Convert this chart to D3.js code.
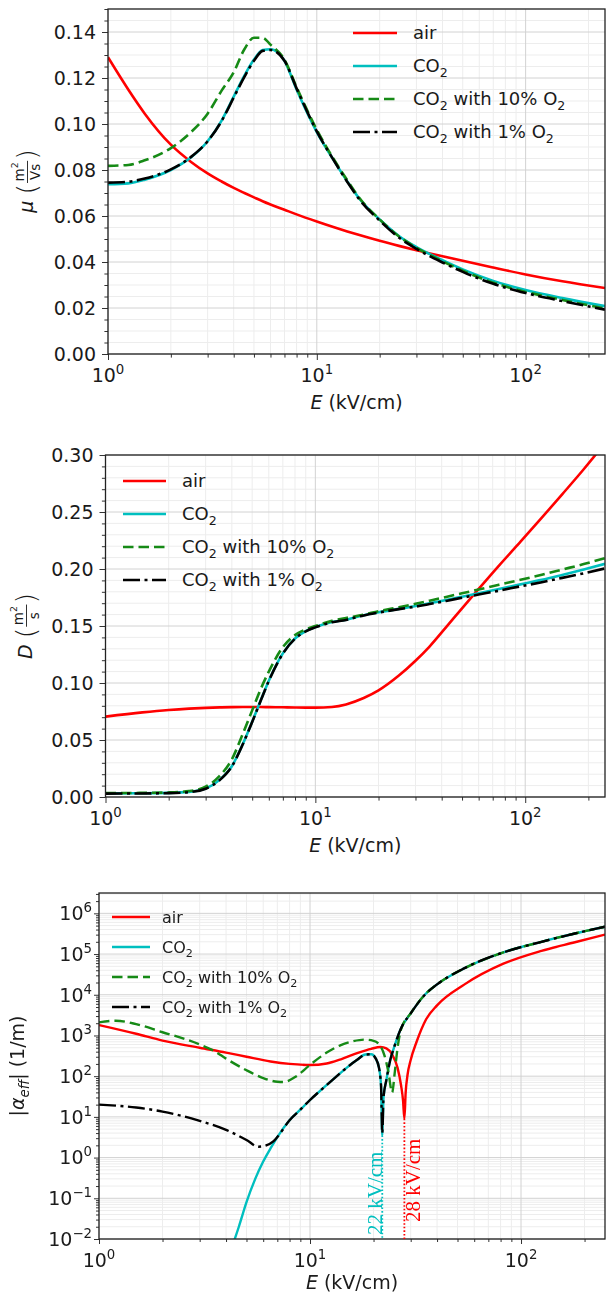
<!DOCTYPE html>
<html>
<head>
<meta charset="utf-8">
<script src="https://cdn.jsdelivr.net/npm/d3@7"></script>
<style>
  body { margin: 0; background: #fff; }
  svg { display: block; }
  text { font-family: "DejaVu Sans", sans-serif; fill: #1a1a1a; white-space: pre; }
</style>
</head>
<body>
<svg id="fig" width="606" height="1296"></svg>
<script>
// ---------- drift mobility mu (m^2/Vs) vs reduced field E (kV/cm) ----------
const muE        = [1, 1.25, 1.5, 2, 2.5, 3, 3.5, 4, 4.5, 5, 5.5, 6, 7, 8, 10, 12, 14, 16, 20, 25, 30, 40, 50, 70, 100, 150, 240];
const muAir      = [0.1290, 0.1150, 0.1045, 0.0910, 0.0835, 0.0785, 0.0750, 0.0722, 0.0700, 0.0681, 0.0664, 0.0650, 0.0627, 0.0607, 0.0576, 0.0552, 0.0533, 0.0517, 0.0492, 0.0469, 0.0451, 0.0425, 0.0405, 0.0376, 0.0346, 0.0316, 0.0287];
const muCO2      = [0.0738, 0.0742, 0.0758, 0.0800, 0.0855, 0.0925, 0.1015, 0.1119, 0.1210, 0.1280, 0.1322, 0.1325, 0.1275, 0.1150, 0.0965, 0.0845, 0.0750, 0.0675, 0.0585, 0.0510, 0.0465, 0.0408, 0.0368, 0.0318, 0.0278, 0.0243, 0.0208];
const muCO2O2_10 = [0.0818, 0.0822, 0.0842, 0.0895, 0.0965, 0.1045, 0.1145, 0.1225, 0.1325, 0.1375, 0.1375, 0.1345, 0.1280, 0.1160, 0.0975, 0.0850, 0.0755, 0.0678, 0.0585, 0.0508, 0.0462, 0.0403, 0.0362, 0.0310, 0.0270, 0.0235, 0.0198];
const muCO2O2_1  = [0.0745, 0.0749, 0.0763, 0.0803, 0.0857, 0.0925, 0.1013, 0.1115, 0.1205, 0.1275, 0.1318, 0.1322, 0.1275, 0.1155, 0.0968, 0.0845, 0.0748, 0.0672, 0.0580, 0.0503, 0.0457, 0.0398, 0.0357, 0.0305, 0.0265, 0.0230, 0.0193];

// ---------- diffusion coefficient D (m^2/s) ----------
const dE         = [1, 1.5, 2, 2.5, 3, 3.5, 4, 4.5, 5, 5.5, 6, 7, 8, 9, 10, 12, 14, 17, 20, 25, 30, 35, 42, 50, 60, 75, 95, 120, 150, 190, 240];
const dAir       = [0.0705, 0.0742, 0.0763, 0.0775, 0.0782, 0.0786, 0.0788, 0.0789, 0.0789, 0.0789, 0.0788, 0.0787, 0.0785, 0.0784, 0.0784, 0.0790, 0.0812, 0.0868, 0.0935, 0.1065, 0.1195, 0.1320, 0.1490, 0.1655, 0.1825, 0.2030, 0.2240, 0.2450, 0.2655, 0.2875, 0.3105];
const dCO2       = [0.0032, 0.0033, 0.0036, 0.0045, 0.0075, 0.0150, 0.0270, 0.0460, 0.0660, 0.0850, 0.1020, 0.1260, 0.1390, 0.1455, 0.1490, 0.1535, 0.1555, 0.1595, 0.1620, 0.1650, 0.1675, 0.1700, 0.1728, 0.1757, 0.1788, 0.1825, 0.1865, 0.1905, 0.1948, 0.1995, 0.2045];
const dCO2O2_10  = [0.0035, 0.0036, 0.0040, 0.0052, 0.0090, 0.0185, 0.0330, 0.0550, 0.0760, 0.0950, 0.1100, 0.1315, 0.1420, 0.1470, 0.1500, 0.1545, 0.1570, 0.1600, 0.1630, 0.1665, 0.1695, 0.1722, 0.1755, 0.1787, 0.1820, 0.1862, 0.1905, 0.1950, 0.1995, 0.2043, 0.2095];
const dCO2O2_1   = [0.0030, 0.0031, 0.0034, 0.0043, 0.0073, 0.0148, 0.0268, 0.0458, 0.0658, 0.0848, 0.1018, 0.1258, 0.1388, 0.1453, 0.1488, 0.1533, 0.1553, 0.1593, 0.1618, 0.1648, 0.1670, 0.1693, 0.1720, 0.1748, 0.1776, 0.1810, 0.1848, 0.1884, 0.1922, 0.1962, 0.2005];

// ---------- |effective ionization coefficient| (1/m) ----------
const aAirE      = [1, 1.5, 2, 3, 4, 5, 6.5, 8, 10, 12, 14, 17, 19.5, 21.6, 23, 24.5, 26, 27, 27.6, 28, 28.4, 29, 30, 32, 35.5, 40, 54, 82.5, 125, 180, 250];
const aAir       = [1800, 1100, 750, 500, 380, 300, 230, 200, 188, 205, 260, 380, 470, 520, 480, 340, 160, 60, 25, 9, 40, 110, 250, 700, 2500, 5500, 18000, 58000, 120000, 195000, 300000];
const aCO2E      = [4.2, 4.6, 5, 5.5, 6, 6.55, 7, 8, 9, 10, 11.5, 13.4, 15, 16.6, 18.3, 19.5, 20.5, 21.2, 21.7, 22, 22.3, 23, 24, 25, 27, 30, 35, 40, 54, 82.5, 125, 180, 250];
const aCO2       = [0.005, 0.02, 0.08, 0.3, 0.8, 1.8, 3.2, 8.3, 15, 26, 50, 100, 165, 245, 340, 345, 270, 165, 60, 3.5, 30, 80, 250, 500, 1500, 3500, 10000, 18000, 45000, 110000, 200000, 320000, 470000];
const aO2_10E    = [1, 1.2, 1.5, 2, 2.5, 3, 3.5, 4, 5, 6, 7, 7.5, 8.5, 10, 12, 14, 16, 18, 20, 21.5, 22.5, 23.5, 24.5, 25.2, 26, 27, 30, 35, 40, 54, 82.5, 125, 180, 250];
const aO2_10     = [2100, 2300, 1900, 1200, 850, 600, 420, 270, 140, 90, 73, 72, 95, 190, 380, 580, 720, 790, 740, 560, 330, 130, 40, 120, 500, 1400, 3500, 10000, 18000, 45000, 110000, 200000, 320000, 470000];
const aO2_1E     = [1, 1.5, 2, 3, 4, 5, 5.7, 6.2, 6.7, 7, 8, 9, 10, 11.5, 13.4, 15, 16.6, 18.3, 19.5, 20.5, 21.2, 21.7, 22, 22.3, 23, 24, 25, 27, 30, 35, 40, 54, 82.5, 125, 180, 250];
const aO2_1      = [20, 17, 13.5, 8, 4.8, 2.7, 1.85, 2.0, 2.5, 3.2, 8.3, 15, 26, 50, 100, 165, 245, 340, 345, 270, 165, 60, 4, 30, 80, 250, 500, 1500, 3500, 10000, 18000, 45000, 110000, 200000, 320000, 470000];

// critical fields marked in the ionization panel
const criticalE      = [22, 28];
const criticalLabels = ["22 kV/cm", "28 kV/cm"];

// tick values
const xTickExps     = [0, 1, 2];
const muTicks       = [0, 0.02, 0.04, 0.06, 0.08, 0.10, 0.12, 0.14];
const dTicks        = [0, 0.05, 0.10, 0.15, 0.20, 0.25, 0.30];
const alphaTickExps = [-2, -1, 0, 1, 2, 3, 4, 5, 6];

// legend entries (rich text parts)
const legendParts = [
  [{t: "air"}],
  [{t: "CO"}, {t: "2", sub: true}],
  [{t: "CO"}, {t: "2", sub: true}, {t: " with 10% O"}, {t: "2", sub: true}],
  [{t: "CO"}, {t: "2", sub: true}, {t: " with 1% O"}, {t: "2", sub: true}]
];

const styles = [
  {color: "#ff0000", dash: null},
  {color: "#00bfbf", dash: null},
  {color: "#168a16", dash: "10.5,5"},
  {color: "#000000", dash: "17,4.5,3,4.5"}
];

const svg = d3.select("#fig");
const defs = svg.append("defs");
defs.append("filter").attr("id", "soft").attr("x", "-5%").attr("y", "-5%").attr("width", "110%").attr("height", "110%")
  .append("feGaussianBlur").attr("stdDeviation", 0.55);

// text made of normal / subscript / superscript runs
function rich(text, parts, fs) {
  let shift = 0;
  parts.forEach(p => {
    const target = p.sub ? fs * 0.24 : p.sup ? -fs * 0.42 : 0;
    const size = (p.sub || p.sup) ? fs * 0.7 : fs;
    text.append("tspan")
      .attr("dy", target - shift)
      .attr("font-size", size)
      .attr("font-style", p.it ? "italic" : null)
      .text(p.t);
    shift = target;
  });
  return text;
}

function panel(cfg) {
  const g = svg.append("g");
  const x = d3.scaleLog().domain(cfg.xDomain).range([cfg.left, cfg.right]);
  const y = (cfg.yLog ? d3.scaleLog() : d3.scaleLinear()).domain(cfg.yDomain).range([cfg.bottom, cfg.top]);

  const xMajor = xTickExps.map(e => Math.pow(10, e));
  const xMinor = [];
  xTickExps.forEach(e => d3.range(2, 10).forEach(m => {
    const v = m * Math.pow(10, e);
    if (v <= cfg.xDomain[1]) xMinor.push(v);
  }));

  let yMajor, yMinor;
  if (cfg.yLog) {
    yMajor = alphaTickExps.map(e => Math.pow(10, e));
    yMinor = [];
    alphaTickExps.forEach(e => d3.range(2, 10).forEach(m => {
      const v = m * Math.pow(10, e);
      if (v <= cfg.yDomain[1]) yMinor.push(v);
    }));
  } else {
    yMajor = cfg.yTicks;
    yMinor = d3.range(0, Math.round(cfg.yDomain[1] / cfg.yMinorStep) + 1)
      .map(i => +(i * cfg.yMinorStep).toFixed(4))
      .filter(v => !yMajor.some(t => Math.abs(t - v) < 1e-9));
  }

  // grid
  const grid = g.append("g");
  grid.selectAll(".gxm").data(xMinor).join("line")
    .attr("x1", d => x(d)).attr("x2", d => x(d)).attr("y1", cfg.top).attr("y2", cfg.bottom)
    .attr("stroke", "#ededed").attr("stroke-width", 1);
  grid.selectAll(".gym").data(yMinor).join("line")
    .attr("x1", cfg.left).attr("x2", cfg.right).attr("y1", d => y(d)).attr("y2", d => y(d))
    .attr("stroke", "#ededed").attr("stroke-width", 1);
  grid.selectAll(".gxM").data(xMajor).join("line")
    .attr("x1", d => x(d)).attr("x2", d => x(d)).attr("y1", cfg.top).attr("y2", cfg.bottom)
    .attr("stroke", "#d2d2d2").attr("stroke-width", 1);
  grid.selectAll(".gyM").data(yMajor).join("line")
    .attr("x1", cfg.left).attr("x2", cfg.right).attr("y1", d => y(d)).attr("y2", d => y(d))
    .attr("stroke", "#d2d2d2").attr("stroke-width", 1);

  // curves
  const clipId = "clip" + cfg.id;
  defs.append("clipPath").attr("id", clipId).append("rect")
    .attr("x", cfg.left).attr("y", cfg.top).attr("width", cfg.right - cfg.left).attr("height", cfg.bottom - cfg.top);
  const lines = g.append("g").attr("clip-path", `url(#${clipId})`);
  const lineGen = d3.line().x(d => x(d[0])).y(d => y(d[1])).curve(d3.curveMonotoneX);
  cfg.series.forEach((s, i) => {
    const pts = s.E.map((e, k) => [e, s.v[k]]);
    lines.append("path").attr("d", lineGen(pts))
      .attr("fill", "none").attr("stroke", styles[i].color)
      .attr("stroke-width", cfg.lw)
      .attr("stroke-dasharray", styles[i].dash)
      .attr("stroke-linejoin", "round");
  });

  // axes: tick marks via d3 axes, labels as rich text
  const xAxis = g.append("g").attr("transform", `translate(0,${cfg.bottom})`);
  xAxis.call(d3.axisBottom(x).tickValues(xMajor).tickSize(cfg.tickLen).tickFormat(""));
  xAxis.append("g").call(d3.axisBottom(x).tickValues(xMinor).tickSize(cfg.tickLen * 0.6).tickFormat(""));
  xAxis.selectAll(".domain").remove();
  xAxis.selectAll("line").attr("stroke", "#333");

  const yAxis = g.append("g").attr("transform", `translate(${cfg.left},0)`);
  yAxis.call(d3.axisLeft(y).tickValues(yMajor).tickSize(cfg.tickLen).tickFormat(""));
  yAxis.append("g").call(d3.axisLeft(y).tickValues(yMinor).tickSize(cfg.tickLen * 0.6).tickFormat(""));
  yAxis.selectAll(".domain").remove();
  yAxis.selectAll("line").attr("stroke", "#333");

  // frame
  g.append("rect").attr("x", cfg.left).attr("y", cfg.top)
    .attr("width", cfg.right - cfg.left).attr("height", cfg.bottom - cfg.top)
    .attr("fill", "none").attr("stroke", "#222").attr("stroke-width", 1.3);

  // x tick labels
  xTickExps.forEach(e => {
    rich(g.append("text").attr("x", x(Math.pow(10, e))).attr("y", cfg.bottom + 28)
      .attr("text-anchor", "middle").attr("font-size", cfg.fs),
      [{t: "10"}, {t: String(e), sup: true}], cfg.fs);
  });
  // y tick labels
  if (cfg.yLog) {
    alphaTickExps.forEach(e => {
      rich(g.append("text").attr("x", cfg.left - cfg.yLabelPad).attr("y", y(Math.pow(10, e)) + cfg.fs * 0.36)
        .attr("text-anchor", "end").attr("font-size", cfg.fs),
        [{t: "10"}, {t: (e < 0 ? "\u2212" : "") + Math.abs(e), sup: true}], cfg.fs);
    });
  } else {
    const fmt = d3.format(".2f");
    yMajor.forEach(v => {
      g.append("text").attr("x", cfg.left - cfg.yLabelPad).attr("y", y(v) + cfg.fs * 0.36)
        .attr("text-anchor", "end").attr("font-size", cfg.fs).text(fmt(v));
    });
  }

  // x axis title
  rich(g.append("text").attr("x", (cfg.left + cfg.right) / 2).attr("y", cfg.bottom + cfg.titleGap)
    .attr("text-anchor", "middle").attr("font-size", cfg.fs),
    [{t: "E", it: true}, {t: " (kV/cm)"}], cfg.fs);

  // legend
  const L = cfg.legend;
  legendParts.forEach((parts, i) => {
    const ly = L.y + i * L.dy;
    g.append("line").attr("x1", L.x1).attr("x2", L.x2).attr("y1", ly).attr("y2", ly)
      .attr("stroke", styles[i].color).attr("stroke-width", cfg.lw)
      .attr("stroke-dasharray", styles[i].dash);
    rich(g.append("text").attr("x", L.tx).attr("y", ly + L.fs * 0.36).attr("font-size", L.fs), parts, L.fs);
  });

  return {g, x, y};
}

// rotated y-axis title with a stacked fraction for the units
function fracTitle(g, tx, cy, sym, numParts, den) {
  const fs = 19, ff = 13.5;
  const outer = g.append("g").attr("transform", `translate(${tx},${cy}) rotate(-90)`);
  const inner = outer.append("g");
  let cx = 0;
  const s = inner.append("text").attr("x", 0).attr("y", 0).attr("font-size", fs).attr("font-style", "italic").text(sym);
  cx += s.node().getComputedTextLength() + fs * 0.32;
  const lp = inner.append("text").attr("x", cx).attr("y", 3).attr("font-size", 27).attr("font-weight", 300).text("(");
  cx += lp.node().getComputedTextLength() + 1;
  const nt = rich(inner.append("text").attr("y", -9.5).attr("font-size", ff).attr("text-anchor", "middle"), numParts, ff);
  const dt = inner.append("text").attr("y", 7).attr("font-size", ff).attr("text-anchor", "middle").text(den);
  const fw = Math.max(nt.node().getComputedTextLength(), dt.node().getComputedTextLength()) + 3;
  nt.attr("x", cx + fw / 2);
  dt.attr("x", cx + fw / 2);
  inner.append("line").attr("x1", cx).attr("x2", cx + fw).attr("y1", -5.5).attr("y2", -5.5)
    .attr("stroke", "#1a1a1a").attr("stroke-width", 0.9);
  cx += fw + 1;
  const rp = inner.append("text").attr("x", cx).attr("y", 3).attr("font-size", 27).attr("font-weight", 300).text(")");
  cx += rp.node().getComputedTextLength();
  inner.attr("transform", `translate(${-cx / 2},0)`);
}

// ---- mobility ----
const p1 = panel({
  id: 1, left: 108, right: 605, top: 9, bottom: 354,
  xDomain: [1, 240], yDomain: [0, 0.15], yTicks: muTicks, yMinorStep: 0.005,
  fs: 19, lw: 2.6, tickLen: 6, yLabelPad: 12, titleGap: 55,
  series: [
    {E: muE, v: muAir}, {E: muE, v: muCO2}, {E: muE, v: muCO2O2_10}, {E: muE, v: muCO2O2_1}
  ],
  legend: {x1: 353, x2: 397, tx: 413, y: 33, dy: 33, fs: 18}
});
fracTitle(p1.g, 33, 181, "\u03bc", [{t: "m"}, {t: "2", sup: true}], "Vs");

// ---- diffusion ----
const p2 = panel({
  id: 2, left: 105.5, right: 605, top: 455, bottom: 797,
  xDomain: [1, 240], yDomain: [0, 0.30], yTicks: dTicks, yMinorStep: 0.01,
  fs: 19, lw: 2.6, tickLen: 6, yLabelPad: 12, titleGap: 55,
  series: [
    {E: dE, v: dAir}, {E: dE, v: dCO2}, {E: dE, v: dCO2O2_10}, {E: dE, v: dCO2O2_1}
  ],
  legend: {x1: 123, x2: 166, tx: 182, y: 481, dy: 33, fs: 18}
});
fracTitle(p2.g, 32, 626, "D", [{t: "m"}, {t: "2", sup: true}], "s");

// ---- effective ionization ----
const alphaSeries = [
  {E: aAirE, v: aAir}, {E: aCO2E, v: aCO2}, {E: aO2_10E, v: aO2_10}, {E: aO2_1E, v: aO2_1}
];
const p3 = panel({
  id: 3, left: 99, right: 605, top: 893, bottom: 1239,
  xDomain: [1, 250], yDomain: [1e-2, Math.pow(10, 6.5)], yLog: true,
  fs: 19, lw: 2.4, tickLen: 5, yLabelPad: 7, titleGap: 50,
  series: alphaSeries,
  legend: {x1: 112, x2: 150, tx: 162, y: 917, dy: 30, fs: 16}
});
p3.g.attr("filter", "url(#soft)");
rich(p3.g.append("text")
  .attr("transform", `translate(24,1066) rotate(-90)`)
  .attr("text-anchor", "middle").attr("font-size", 19),
  [{t: "|"}, {t: "\u03b1", it: true}, {t: "eff", sub: true, it: true}, {t: "| (1/m)"}], 19);

// critical-field markers: dotted drop from the curve minimum to the axis, with rotated labels
const markerSeries = [alphaSeries[1], alphaSeries[0]];
const markerColors = [styles[1].color, styles[0].color];
const markerOffsets = [{dx: 0, y: 1235}, {dx: 16, y: 1222}];
criticalE.forEach((e, i) => {
  const s = markerSeries[i];
  const v = s.v[s.E.indexOf(e)];
  const xp = p3.x(e);
  p3.g.append("line").attr("x1", xp).attr("x2", xp)
    .attr("y1", p3.y(v)).attr("y2", p3.y.range()[0])
    .attr("stroke", markerColors[i]).attr("stroke-width", 1.8)
    .attr("stroke-dasharray", "1.6,2");
  p3.g.append("text")
    .attr("transform", `translate(${xp + markerOffsets[i].dx},${markerOffsets[i].y}) rotate(-90)`)
    .style("font-family", "'Liberation Serif', 'DejaVu Serif', serif")
    .style("fill", markerColors[i])
    .attr("font-size", 21)
    .text(criticalLabels[i]);
});
</script>
</body>
</html>
